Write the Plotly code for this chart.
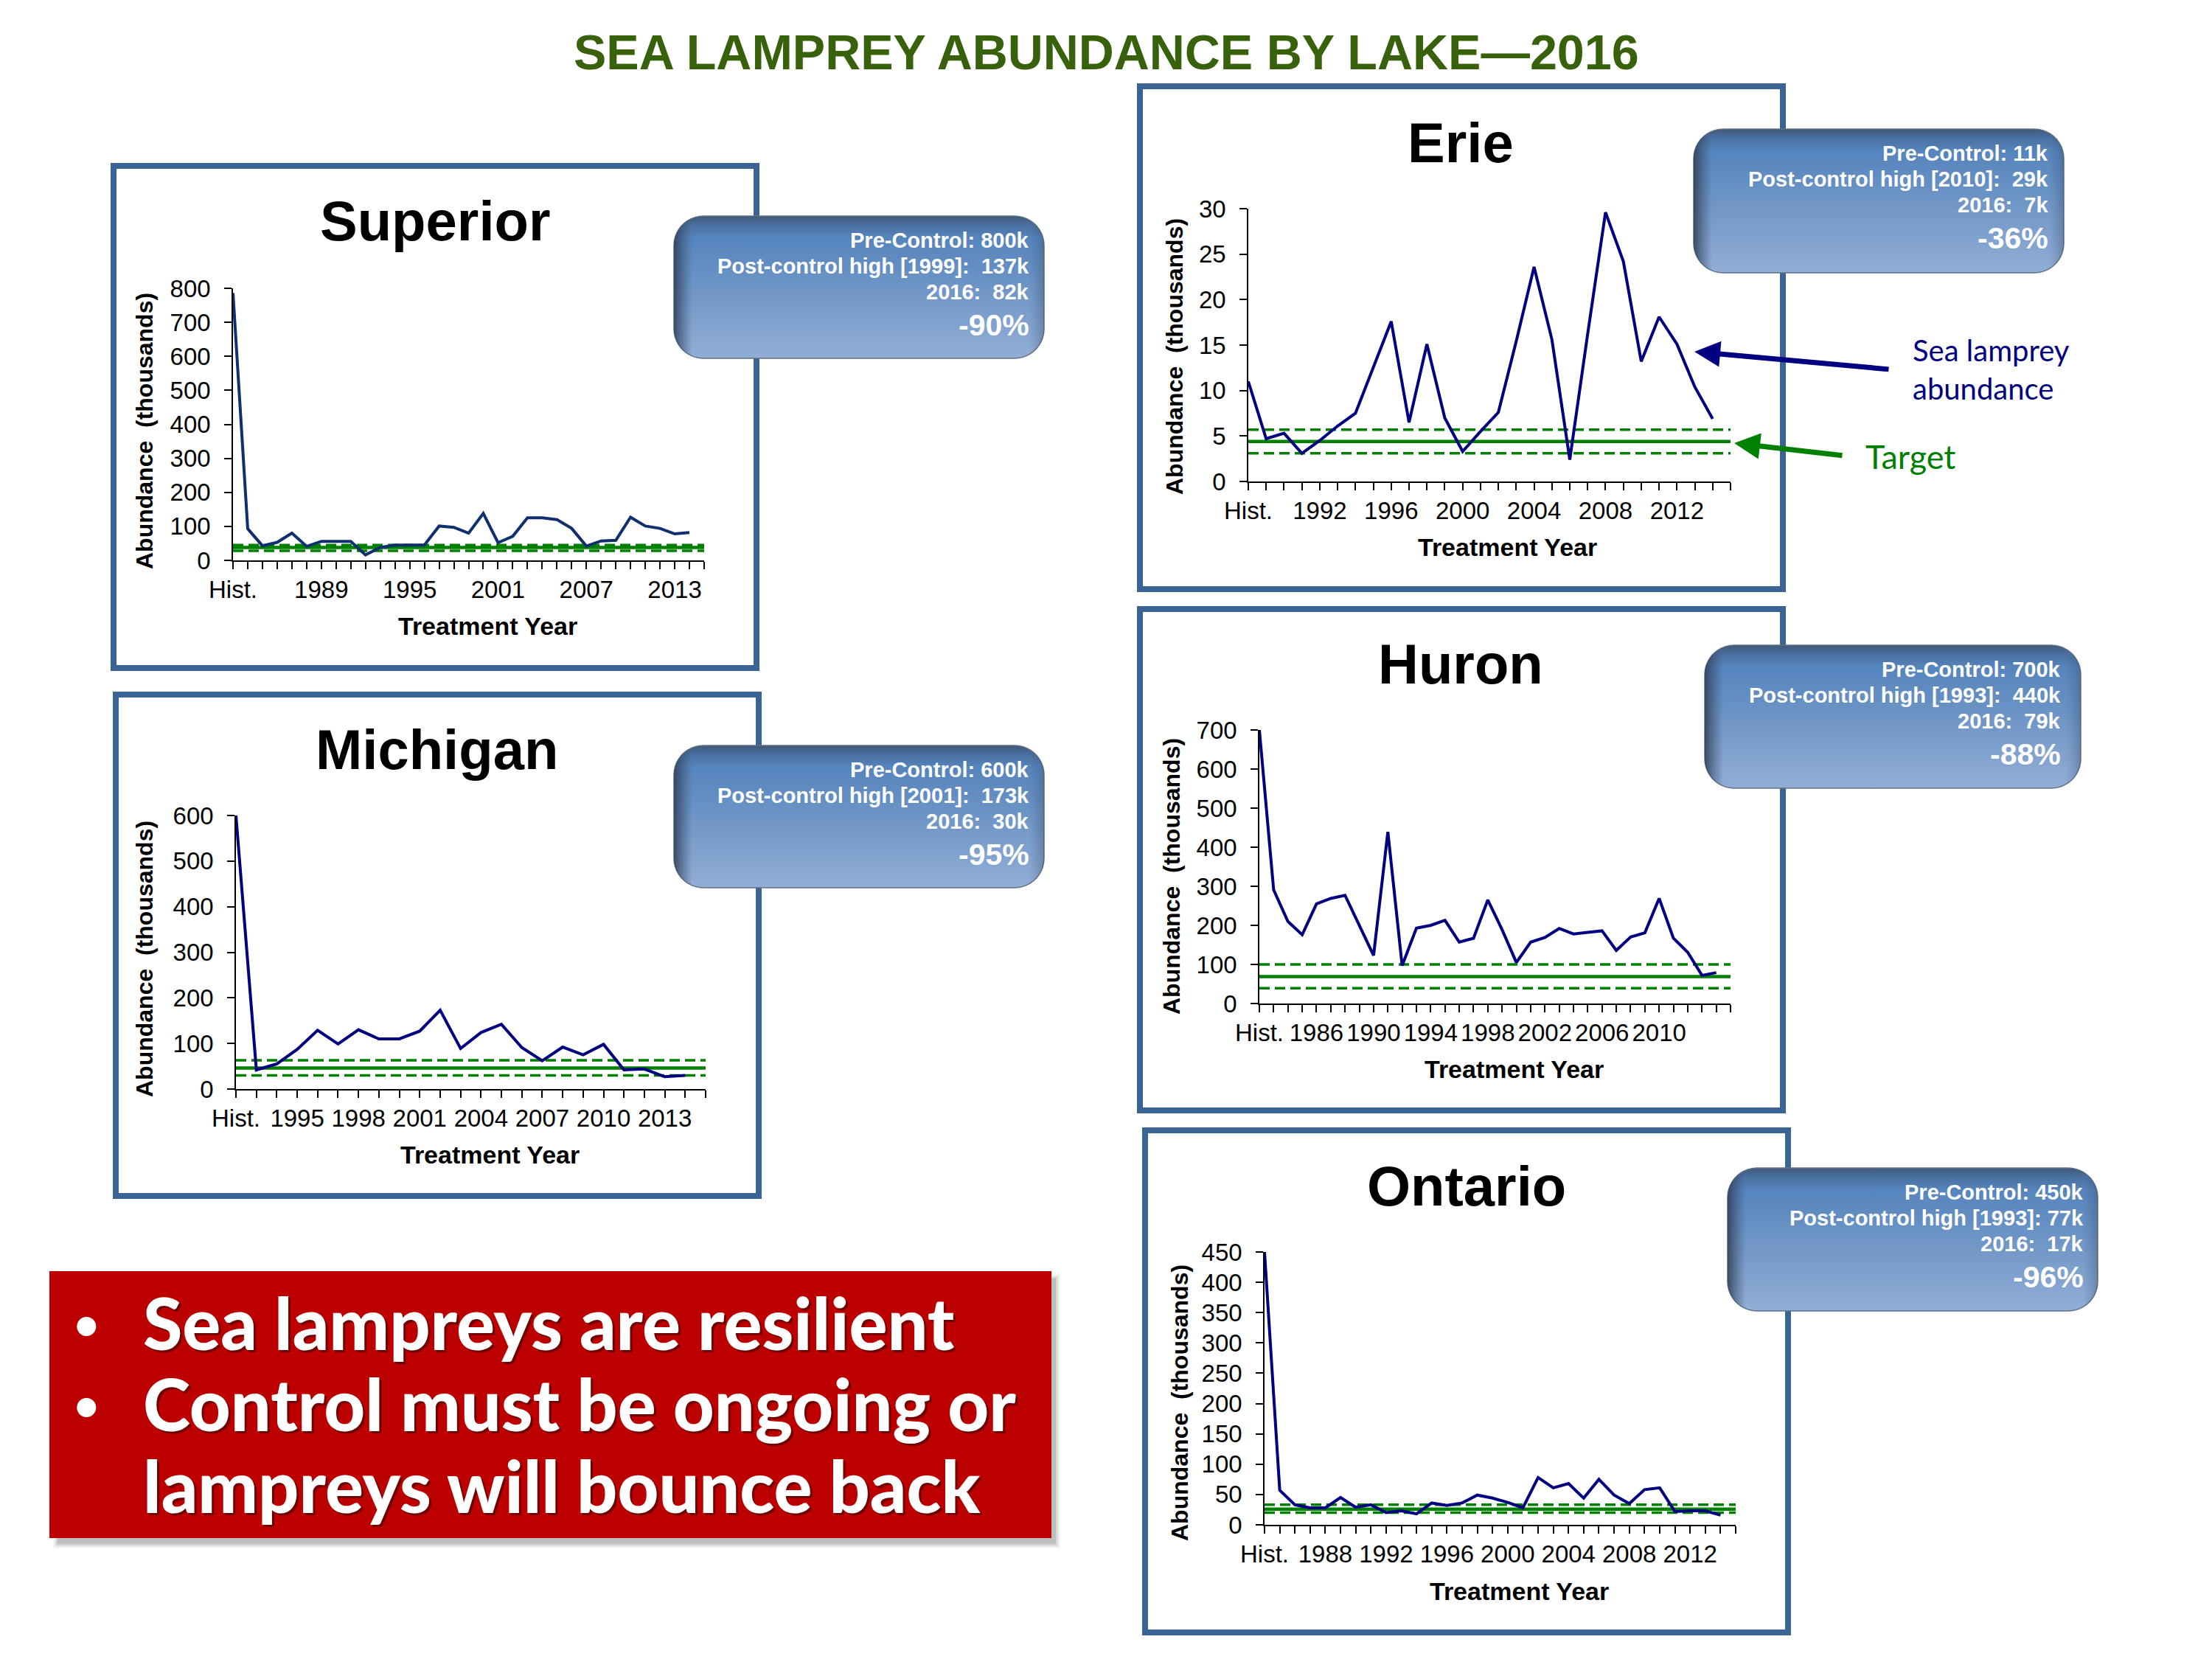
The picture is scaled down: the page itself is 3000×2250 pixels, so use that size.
import numpy as np
import plotly.graph_objects as go

# Values (thousands of lampreys). First entry is the historic level.
superior_years = ["Hist."] + [str(y) for y in range(1984, 2016)]
superior_vals = [786, 93, 43, 53, 80, 41, 56, 56, 56, 16, 38, 45, 45, 45, 101, 97, 80, 138, 52, 71,
                 125, 125, 120, 94, 42, 57, 59, 127, 101, 94, 78, 82]
superior_target = [45, 38, 28]
superior_labels = ["Hist.", "1989", "1995", "2001", "2007", "2013"]

michigan_years = ["Hist."] + [str(y) for y in range(1993, 2016)]
michigan_vals = [600, 42, 55, 87, 129, 99, 130, 110, 110, 127, 173, 89, 124, 142, 91, 62, 92, 75, 98,
                 42, 44, 27, 30]
michigan_target = [63, 46, 30]
michigan_labels = ["Hist.", "1995", "1998", "2001", "2004", "2007", "2010", "2013"]

erie_years = ["Hist."] + [str(y) for y in range(1989, 2016)]
erie_vals = [11, 4.7, 5.3, 3.1, 4.5, 6.1, 7.5, 12.5, 17.6, 6.5, 15.1, 7, 3.3, 5.5, 7.6, 15.4, 23.6, 15.6,
             2.4, 16.2, 29.6, 24.2, 13.2, 18.1, 15.1, 10.4, 6.9]
erie_target = [5.7, 4.4, 3.1]
erie_labels = ["Hist.", "1992", "1996", "2000", "2004", "2008", "2012"]

huron_years = ["Hist."] + [str(y) for y in range(1983, 2016)]
huron_vals = [700, 291, 210, 176, 255, 269, 277, 198, 123, 439, 97, 193, 200, 213, 157, 167, 265, 189,
              105, 157, 169, 192, 178, 182, 186, 136, 170, 181, 269, 167, 131, 72, 79]
huron_target = [100, 69, 39]
huron_labels = ["Hist.", "1986", "1990", "1994", "1998", "2002", "2006", "2010"]

ontario_years = ["Hist."] + [str(y) for y in range(1985, 2016)]
ontario_vals = [450, 57, 33, 28, 28, 45, 29, 33, 20, 23, 18, 36, 32, 36, 49, 44, 37, 28, 78, 61, 68, 44,
                75, 49, 35, 58, 61, 22, 23, 23, 16]
ontario_target = [33, 25.7, 20]
ontario_labels = ["Hist.", "1988", "1992", "1996", "2000", "2004", "2008", "2012"]

superior_text = ["Pre-Control: 800k", "Post-control high [1999]:  137k", "2016:  82k", "-90%"]
michigan_text = ["Pre-Control: 600k", "Post-control high [2001]:  173k", "2016:  30k", "-95%"]
erie_text = ["Pre-Control: 11k", "Post-control high [2010]:  29k", "2016:  7k", "-36%"]
huron_text = ["Pre-Control: 700k", "Post-control high [1993]:  440k", "2016:  79k", "-88%"]
ontario_text = ["Pre-Control: 450k", "Post-control high [1993]: 77k", "2016:  17k", "-96%"]

W, H = 3000, 2250
FONT = "Liberation Sans"
NAVY = "#000080"
GREEN = "#008000"
FRAME = "#3A6494"


def px(x):
    return x / W


def py(y):
    return 1 - y / H


# Page layout in pixels: plot box, frame, badge, title and axis title centres.
panels = [
    dict(name="Superior", years=superior_years, vals=superior_vals, target=superior_target,
         labels=superior_labels, text=superior_text, ymax=800, dtick=100, color="#0F2F6F",
         plot=(316, 955, 391, 760), frame=(154, 1026, 225, 906), badge=(914, 1416, 293, 486), text_right=1398,
         title=(590, 300), xt=(661, 849), yt=(196, 584)),
    dict(name="Michigan", years=michigan_years, vals=michigan_vals, target=michigan_target,
         labels=michigan_labels, text=michigan_text, ymax=600, dtick=100, color=NAVY,
         plot=(320, 957, 1106, 1477), frame=(157, 1029, 942, 1622), badge=(914, 1416, 1011, 1204), text_right=1398,
         title=(592, 1017), xt=(664, 1566), yt=(196, 1300)),
    dict(name="Erie", years=erie_years, vals=erie_vals, target=erie_target,
         labels=erie_labels, text=erie_text, ymax=30, dtick=5, color=NAVY,
         plot=(1693, 2347, 283, 653), frame=(1546, 2418, 117, 799), badge=(2297, 2799, 175, 370), text_right=2780,
         title=(1981, 194), xt=(2044, 742), yt=(1593, 484)),
    dict(name="Huron", years=huron_years, vals=huron_vals, target=huron_target,
         labels=huron_labels, text=huron_text, ymax=700, dtick=100, color=NAVY,
         plot=(1708, 2347, 990, 1361), frame=(1546, 2418, 826, 1506), badge=(2312, 2822, 875, 1069), text_right=2797,
         title=(1981, 900), xt=(2053, 1450), yt=(1589, 1188)),
    dict(name="Ontario", years=ontario_years, vals=ontario_vals, target=ontario_target,
         labels=ontario_labels, text=ontario_text, ymax=450, dtick=50, color=NAVY,
         plot=(1715, 2354, 1698, 2068), frame=(1553, 2425, 1533, 2214), badge=(2343, 2845, 1584, 1778), text_right=2828,
         title=(1989, 1608), xt=(2060, 2158), yt=(1600, 1903)),
]

fig = go.Figure()
shapes, annotations, layout_axes = [], [], {}


def add_text(text, x, y, size, color="black", bold=False, family=FONT, anchor="center", angle=0, weight=None):
    font = dict(family=family, size=size, color=color)
    if weight:
        font["weight"] = weight
    annotations.append(dict(
        text=f"<b>{text}</b>" if bold else text, x=px(x), y=py(y), xref="paper", yref="paper",
        xanchor=anchor, yanchor="middle", showarrow=False, textangle=angle, font=font))


for i, p in enumerate(panels, start=1):
    suffix = "" if i == 1 else str(i)
    ax_x, ax_y = f"x{suffix}", f"y{suffix}"
    left, right, top, bottom = p["plot"]

    # Frame behind the chart.
    fl, fr, ft, fb = p["frame"]
    shapes.append(dict(type="rect", xref="paper", yref="paper", x0=px(fl), x1=px(fr), y0=py(ft), y1=py(fb),
                       line=dict(color=FRAME, width=8), fillcolor="white", layer="below"))

    ends = [p["years"][0], p["years"][-1]]
    for level, dash, width in zip(p["target"], ["14px,7px", "solid", "14px,7px"], [3.5, 4.5, 3.5]):
        fig.add_trace(go.Scatter(x=ends, y=[level, level], mode="lines", xaxis=ax_x, yaxis=ax_y,
                                 line=dict(color=GREEN, width=width, dash=dash), cliponaxis=False,
                                 showlegend=False))
    fig.add_trace(go.Scatter(x=p["years"][:len(p["vals"])], y=p["vals"], mode="lines", xaxis=ax_x, yaxis=ax_y,
                             line=dict(color=p["color"], width=4), cliponaxis=False, showlegend=False))

    ticktext = [y if y in p["labels"] else "" for y in p["years"]]
    layout_axes[f"xaxis{suffix}"] = dict(
        domain=[px(left), px(right)], anchor=ax_y, type="category", categoryorder="array", automargin=False,
        categoryarray=p["years"], range=[0, len(p["years"]) - 1], tickmode="array", tickvals=p["years"],
        ticktext=ticktext, ticks="outside", ticklen=10, tickwidth=1.5, tickcolor="black", tickangle=0,
        showline=True, linecolor="black", linewidth=1.5, showgrid=False, zeroline=False,
        tickfont=dict(family=FONT, size=33, color="black"))
    layout_axes[f"yaxis{suffix}"] = dict(
        domain=[py(bottom), py(top)], anchor=ax_x, range=[0, p["ymax"]], dtick=p["dtick"], ticks="outside",
        ticklen=10, tickwidth=1.5, tickcolor="black", showline=True, linecolor="black", linewidth=1.5,
        ticklabelstandoff=12, automargin=False, showgrid=False, zeroline=False,
        tickfont=dict(family=FONT, size=33, color="black"))

    add_text(p["name"], p["title"][0], p["title"][1], 76, bold=True)
    add_text("Treatment Year", p["xt"][0], p["xt"][1], 34, bold=True)
    add_text("Abundance  (thousands)".replace("  ", "&nbsp; "), p["yt"][0], p["yt"][1], 32, bold=True, angle=-90)

    # Text in the badge, right aligned.
    bt = p["badge"][2]
    for line, dy, size in zip(p["text"], [33, 68, 103, 148], [29, 29, 29, 41]):
        add_text(line, p["text_right"], bt + dy, size, color="white", bold=True, anchor="right")


def rounded_rect(x0, x1, y0, y1, r=40):
    t = np.linspace(0, np.pi / 2, 12)
    xs = np.concatenate([x1 - r + r * np.sin(t), x1 - r + r * np.cos(t), x0 + r - r * np.sin(t), x0 + r - r * np.cos(t)])
    ys = np.concatenate([y0 + r - r * np.cos(t), y1 - r + r * np.sin(t), y1 - r + r * np.cos(t), y0 + r - r * np.sin(t)])
    return np.append(xs, xs[0]), np.append(ys, ys[0])


# Badges sit on a page sized overlay axis so they can use gradient fills and cover the frames.
layout_axes["xaxis6"] = dict(domain=[0, 1], range=[0, W], visible=False, anchor="y6", automargin=False)
layout_axes["yaxis6"] = dict(domain=[0, 1], range=[H, 0], visible=False, anchor="x6", automargin=False)
for p in panels:
    bx, by = rounded_rect(*p["badge"])
    fig.add_trace(go.Scatter(
        x=bx, y=by, mode="lines", fill="toself", xaxis="x6", yaxis="y6", showlegend=False, hoverinfo="skip",
        line=dict(color="#5F7185", width=1.5),
        fillgradient=dict(type="vertical", colorscale=[[0, "#92AED6"], [0.5, "#6E95C6"], [0.85, "#5584BD"],
                                                       [0.94, "#4A6F9E"], [1, "#3E5878"]])))
    fig.add_trace(go.Scatter(
        x=bx, y=by, mode="lines", fill="toself", xaxis="x6", yaxis="y6", showlegend=False, hoverinfo="skip",
        line=dict(width=0),
        fillgradient=dict(type="horizontal", colorscale=[[0, "rgba(45,60,85,0.85)"], [0.05, "rgba(60,80,110,0)"],
                                                         [0.96, "rgba(60,80,110,0)"], [1, "rgba(45,60,85,0.3)"]])))

# Red message box with a soft shadow.
for grow, alpha in [(8, 0.05), (6, 0.07), (4, 0.1), (2, 0.15)]:
    shapes.append(dict(type="rect", xref="paper", yref="paper", x0=px(80 - grow), x1=px(1430 + grow),
                       y0=py(1736 - grow), y1=py(2092 + grow), fillcolor=f"rgba(60,60,60,{alpha})",
                       line=dict(width=0), layer="above"))
shapes.append(dict(type="rect", xref="paper", yref="paper", x0=px(67), x1=px(1426), y0=py(1724), y1=py(2086),
                   fillcolor="#BC0000", line=dict(width=0), layer="above"))

message_lines = ["Sea lampreys are resilient", "Control must be ongoing or", "lampreys will bounce back"]
for line, y in zip(message_lines, [1793, 1903, 2014]):
    add_text(line, 195, y + 3, 97, color="#700000", family="Lato", anchor="left", weight=900)
    add_text(line, 192, y, 97, color="white", family="Lato", anchor="left", weight=900)
for y in [1793, 1903]:
    add_text("•", 117, y, 70, color="white", family="Lato")

add_text("SEA LAMPREY ABUNDANCE BY LAKE—2016", 1500, 71, 66.5, color="#38610B", bold=True)
add_text("Sea lamprey", 2592, 475, 40, color=NAVY, family="Lato", anchor="left")
add_text("abundance", 2592, 527, 40, color=NAVY, family="Lato", anchor="left")
add_text("Target", 2528, 619, 45, color=GREEN, family="Lato", anchor="left")

# Callout arrows.
for tip, tail, color in [((2298, 477), (2563, 501), NAVY), ((2352, 601), (2500, 618), GREEN)]:
    annotations.append(dict(x=px(tip[0]), y=py(tip[1]), xref="paper", yref="paper", ax=tail[0] - tip[0],
                            ay=tail[1] - tip[1], axref="pixel", ayref="pixel", text="", showarrow=True,
                            arrowhead=2, arrowsize=1, arrowwidth=7, arrowcolor=color))

fig.update_layout(width=W, height=H, margin=dict(l=0, r=0, t=0, b=0), paper_bgcolor="white", plot_bgcolor="rgba(0,0,0,0)",
                  showlegend=False, shapes=shapes, annotations=annotations, **layout_axes)

fig.write_html("out.html", config={"displayModeBar": False}, post_script="document.body.style.margin='0';")
